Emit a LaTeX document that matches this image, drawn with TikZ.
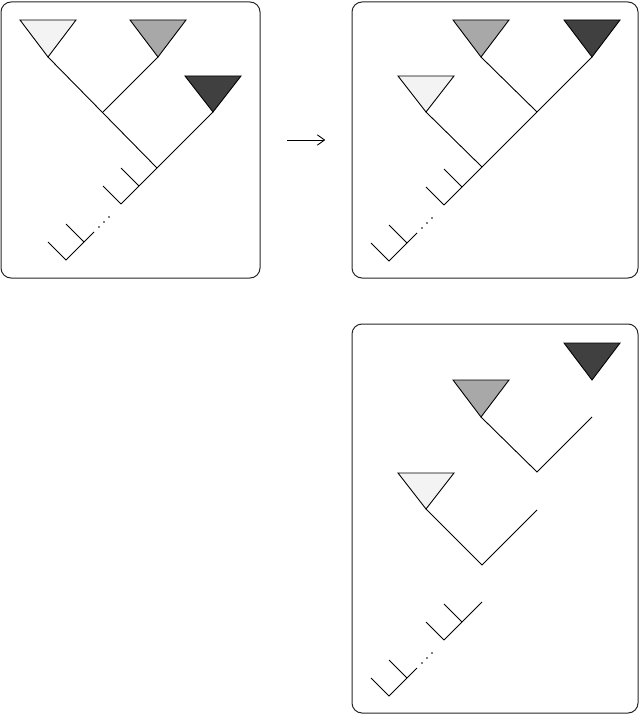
\documentclass[tikz,border=0pt]{standalone}
\usetikzlibrary{arrows.meta}
\definecolor{lt}{HTML}{F3F3F3}
\definecolor{md}{HTML}{A8A8A8}
\definecolor{dk}{HTML}{404040}
\tikzset{
  panel/.style={draw=black!85, line width=1pt, rounded corners=10pt},
  edge/.style={line width=0.9pt},
  tri/.style={draw, line width=0.9pt, line join=miter},
  dotmark/.style={fill, circle, inner sep=0pt, minimum size=1.8pt},
}
\newcommand\mytail[4]{% name, x, y, top length
  \begin{scope}[shift={(#2,#3)}]
    \coordinate (#1T) at (0,0);
    \coordinate (#1top) at (#4,-#4);
    \coordinate (#1a) at (18,-18);
    \coordinate (#1b) at (0,-36);
    \coordinate (#1c) at (-18,-18);
    \draw[edge] (#1a) -- (#1b);
    \draw[edge] (#1T) -- (#1c);
    \node[dotmark] (#1d1) at (-12,13) {};
    \node[dotmark] (#1d2) at (-17,18) {};
    \node[dotmark] (#1d3) at (-22,23) {};
    \coordinate (#1e) at (-27,28);
    \coordinate (#1f) at (-55,56);
    \coordinate (#1g) at (-37,38);
    \coordinate (#1h) at (-55,20);
    \coordinate (#1i) at (-73,38);
    \draw[edge] (#1e) -- (#1f) -- (#1i);
    \draw[edge] (#1g) -- (#1h);
  \end{scope}}
\begin{document}
\begin{tikzpicture}[x=1pt,y=-1pt]
\useasboundingbox (0,0) rectangle (640,714);
% panels
\draw[panel] (1,2) rectangle (260,278);
\draw[panel] (352,2) rectangle (638,278);
\draw[panel] (352,324) rectangle (638,713);

% ---------- panel 1 ----------
\coordinate (aL) at (48,57);
\coordinate (aM) at (158,57);
\coordinate (aD) at (213,112);
\coordinate (aJ1) at (103,112);
\coordinate (aJ2) at (157,168);
\draw[tri, fill=lt] (20,20) -- (76,20) -- (aL) -- cycle;
\draw[tri, fill=md] (130,20) -- (186,20) -- (aM) -- cycle;
\draw[tri, fill=dk] (185,76) -- (241,76) -- (aD) -- cycle;
\mytail{p}{121}{204}{0}
\draw[edge] (aL) -- (aJ2);
\draw[edge] (aM) -- (aJ1);
\draw[edge] (aD) -- (pT);

% arrow
\coordinate (arS) at (287,140);
\coordinate (arE) at (325,140);
\draw[line width=0.8pt, -{Straight Barb[length=7pt,width=10pt,line width=0.9pt,round]}] (arS) -- (arE);

% ---------- panel 2 ----------
\coordinate (bM) at (481,57);
\coordinate (bD) at (592,57);
\coordinate (bL) at (426,112);
\coordinate (bJ1) at (537,112);
\coordinate (bJ2) at (482,167);
\draw[tri, fill=md] (453,20) -- (509,20) -- (bM) -- cycle;
\draw[tri, fill=dk] (564,20) -- (620,20) -- (bD) -- cycle;
\draw[tri, fill=lt] (398,76) -- (454,76) -- (bL) -- cycle;
\mytail{q}{444}{205}{0}
\draw[edge] (bD) -- (qT);
\draw[edge] (bM) -- (bJ1);
\draw[edge] (bL) -- (bJ2);

% ---------- panel 3 ----------
\coordinate (cD) at (592,380);
\coordinate (cM) at (481,417);
\coordinate (cMJ) at (537,472);
\coordinate (cMR) at (592,417);
\coordinate (cL) at (426,509);
\coordinate (cLJ) at (482,565);
\coordinate (cLR) at (537,510);
\draw[tri, fill=dk] (564,343) -- (620,343) -- (cD) -- cycle;
\draw[tri, fill=md] (453,380) -- (509,380) -- (cM) -- cycle;
\draw[tri, fill=lt] (398,473) -- (454,473) -- (cL) -- cycle;
\draw[edge] (cM) -- (cMJ) -- (cMR);
\draw[edge] (cL) -- (cLJ) -- (cLR);
\mytail{r}{444}{640}{38}
\draw[edge] (rtop) -- (rT);
\end{tikzpicture}
\end{document}
